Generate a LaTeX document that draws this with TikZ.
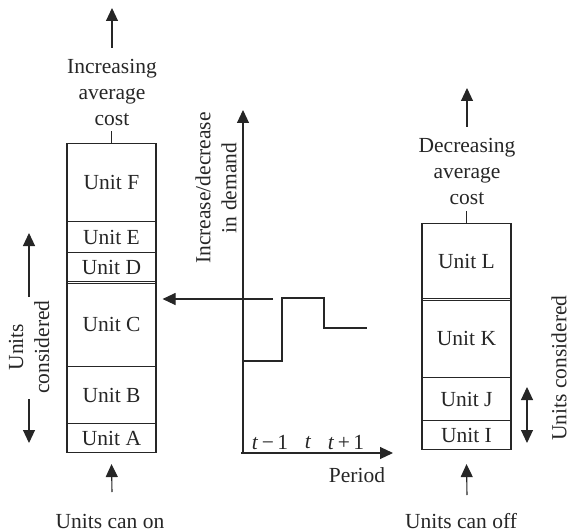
\documentclass[tikz,border=0pt]{standalone}
\usepackage{fontspec}
\setmainfont{Liberation Serif}
\usetikzlibrary{arrows.meta}
\begin{document}
\begin{tikzpicture}[x=1pt,y=-1pt,
  line width=1.1pt, draw=black!85,
  every node/.style={font=\fontsize{21.5}{26}\selectfont, text=black!85},
  arr/.style={-{Triangle[width=12pt,length=13pt]}},
  darr/.style={{Triangle[width=12pt,length=13pt]}-{Triangle[width=12pt,length=13pt]}},
  cell/.style={draw, minimum width=89pt, inner sep=0pt, anchor=north},
  lbl/.style={align=center, inner sep=0pt}]
\useasboundingbox (0,0) rectangle (570,532);
% left stack
\node[cell, minimum height=78pt] (uF) at (111.5,143) {Unit F};
\node[cell, minimum height=31pt] (uE) at (111.5,221) {Unit E};
\node[cell, minimum height=29pt] (uD) at (111.5,252) {Unit D};
\node[cell, minimum height=85pt] (uC) at (111.5,281) {Unit C};
\node[cell, minimum height=57pt] (uB) at (111.5,366) {Unit B};
\node[cell, minimum height=29pt] (uA) at (111.5,423) {Unit A};
\draw ([yshift=-2.2pt]uC.north west) -- ([yshift=-2.2pt]uC.north east);
% right stack
\node[cell, minimum height=75pt] (uL) at (466.5,223) {Unit L};
\node[cell, minimum height=79pt] (uK) at (466.5,298) {Unit K};
\node[cell, minimum height=43pt] (uJ) at (466.5,377) {Unit J};
\node[cell, minimum height=29pt] (uI) at (466.5,420) {Unit I};
\draw ([yshift=-2.5pt]uK.north west) -- ([yshift=-2.5pt]uK.north east);
% left labels
\node[lbl] (incL) at (112,92) {Increasing\\average\\cost};
\draw (uF.north) -- ++(0,-12);
\coordinate (topLtip) at (112,8);
\coordinate (topLbase) at (112,48);
\draw[arr] (topLbase) -- (topLtip);
\node[lbl, rotate=90] (consL) at (29,347) {Units\\considered};
\coordinate (cLu1) at (29,297); \coordinate (cLu2) at (29,233);
\coordinate (cLd1) at (29,399); \coordinate (cLd2) at (29,443);
\draw[arr] (cLu1) -- (cLu2);
\draw[arr] (cLd1) -- (cLd2);
\coordinate (botLbase) at (112,492);
\draw[arr] (botLbase) -- ([yshift=-11pt]uA.south);
\node[anchor=base, inner sep=0pt] (onL) at (110,528) {Units can on};
% right labels
\node[lbl] (decR) at (467,171) {Decreasing\\average\\cost};
\draw (uL.north) -- ++(0,-12);
\coordinate (topRtip) at (467,88);
\coordinate (topRbase) at (467,127);
\draw[arr] (topRbase) -- (topRtip);
\coordinate (cR1) at (527,387); \coordinate (cR2) at (527,443);
\draw[darr] (cR1) -- (cR2);
\node[lbl, rotate=90] (consR) at (559,368) {Units considered};
\coordinate (botRbase) at (467,495);
\draw[arr] (botRbase) -- ([yshift=-14pt]uI.south);
\node[anchor=base, inner sep=0pt] (offR) at (461,528) {Units can off};
% axes
\coordinate (O) at (243,453);
\coordinate (ytip) at (243,110);
\coordinate (xtip) at (393,453);
\draw[arr] (O) -- (ytip);
\draw[arr] (241,453) -- (xtip);
\node[lbl, rotate=90] (ylab) at (216,188) {Increase/decrease\\in demand};
\node (xlab) at (357,475) {Period};
\node[inner sep=0pt] (t1) at (270,443) {\textit{t}\,−\,1};
\node[inner sep=0pt] (t2) at (308,443) {\textit{t}};
\node[inner sep=0pt] (t3) at (346,443) {\textit{t}\,+\,1};
% demand arrow
\coordinate (dstart) at (273,299);
\draw[arr] (dstart) -- ([xshift=6pt]uC.east |- dstart);
% step
\draw (243,361) -- (282,361) -- (282,298) -- (324,298) -- (324,328) -- (367,328);
\end{tikzpicture}
\end{document}
